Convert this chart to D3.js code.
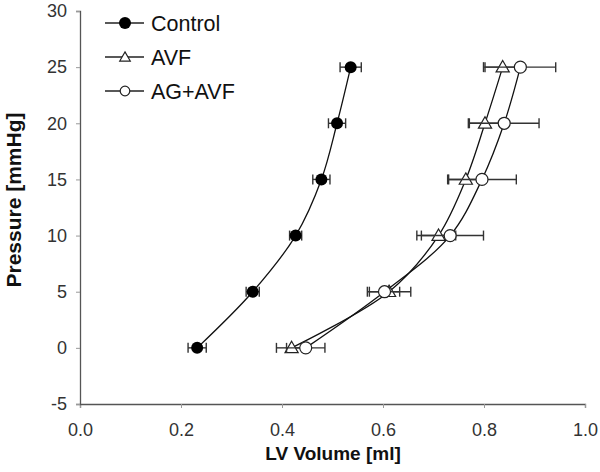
<!DOCTYPE html>
<html>
<head>
<meta charset="utf-8">
<script src="https://cdn.jsdelivr.net/npm/d3@7"></script>
<style>
  body { margin: 0; background: #fff; }
  svg { font-family: "Liberation Sans", Arial, sans-serif; }
</style>
</head>
<body>
<div class="chart"></div>
<script>
// pressure levels (y) shared by all groups
var pressure = [0, 5, 10, 15, 20, 25];

var controlVol = [0.232, 0.342, 0.427, 0.478, 0.509, 0.536];
var controlErr = [0.018, 0.013, 0.012, 0.017, 0.017, 0.021];

var avfVol = [0.419, 0.612, 0.710, 0.764, 0.802, 0.837];
var avfErr = [0.030, 0.043, 0.034, 0.034, 0.033, 0.038];

var agVol = [0.447, 0.603, 0.733, 0.796, 0.840, 0.872];
var agErr = [0.038, 0.030, 0.066, 0.068, 0.069, 0.070];

var xTicks = [0, 0.2, 0.4, 0.6, 0.8, 1.0];
var yTicks = [-5, 0, 5, 10, 15, 20, 25, 30];

var series = [
  { name: "Control", vol: controlVol, err: controlErr, shape: "dot" },
  { name: "AVF", vol: avfVol, err: avfErr, shape: "tri" },
  { name: "AG+AVF", vol: agVol, err: agErr, shape: "circle" }
];

var width = 600, height = 472;
var margin = { left: 80, right: 15, top: 11, bottom: 68 };

var svg = d3.select(".chart")
  .append("svg")
  .attr("width", width)
  .attr("height", height);

var x = d3.scaleLinear().domain([0, 1]).range([margin.left, width - margin.right]);
var y = d3.scaleLinear().domain([-5, 30]).range([height - margin.bottom, margin.top]);

// axes
var xAxis = svg.append("g")
  .attr("transform", "translate(0," + y(-5) + ")")
  .call(d3.axisBottom(x).tickValues(xTicks).tickFormat(d3.format(".1f")).tickSize(4).tickPadding(15));

var yAxis = svg.append("g")
  .attr("transform", "translate(" + x(0) + ",0)")
  .call(d3.axisLeft(y).tickValues(yTicks).tickFormat(function (d) { return String(d); })
    .tickSize(4).tickPadding(9));

[xAxis, yAxis].forEach(function (a) {
  a.select(".domain").attr("stroke", "#555").attr("stroke-width", 1.3);
  a.selectAll(".tick line").attr("stroke", "#999");
  a.selectAll("text").attr("font-size", 18).attr("fill", "#333")
    .attr("font-family", "Liberation Sans, Arial, sans-serif");
});

svg.append("text")
  .attr("x", 333).attr("y", 460)
  .attr("text-anchor", "middle")
  .attr("font-size", 19).attr("font-weight", "bold").attr("fill", "#111")
  .text("LV Volume [ml]");

svg.append("text")
  .attr("transform", "translate(21,200) rotate(-90)")
  .attr("text-anchor", "middle")
  .attr("font-size", 21).attr("font-weight", "bold").attr("fill", "#111")
  .text("Pressure [mmHg]");

var line = d3.line()
  .x(function (d) { return x(d[0]); })
  .y(function (d) { return y(d[1]); })
  .curve(d3.curveCatmullRom.alpha(0.5));

function drawMarker(g, shape, cx, cy, s) {
  if (shape === "dot") {
    g.append("circle").attr("cx", cx).attr("cy", cy).attr("r", 6 * s).attr("fill", "#000");
  } else if (shape === "circle") {
    g.append("circle").attr("cx", cx).attr("cy", cy).attr("r", 6 * s)
      .attr("fill", "#fff").attr("stroke", "#222").attr("stroke-width", 1.2);
  } else {
    var sym = d3.symbol().type(d3.symbolTriangle).size(75 * s * s);
    g.append("path").attr("d", sym()).attr("transform", "translate(" + cx + "," + (cy + 1) + ")")
      .attr("fill", "#fff").attr("stroke", "#222").attr("stroke-width", 1.2);
  }
}

series.forEach(function (s) {
  var pts = s.vol.map(function (v, i) { return [v, pressure[i]]; });
  var g = svg.append("g");

  // error bars
  pts.forEach(function (p, i) {
    var x0 = x(p[0] - s.err[i]), x1 = x(p[0] + s.err[i]), yy = y(p[1]);
    g.append("line").attr("x1", x0).attr("x2", x1).attr("y1", yy).attr("y2", yy)
      .attr("stroke", "#333").attr("stroke-width", 1.4);
    [x0, x1].forEach(function (xx) {
      g.append("line").attr("x1", xx).attr("x2", xx).attr("y1", yy - 5).attr("y2", yy + 5)
        .attr("stroke", "#333").attr("stroke-width", 1.4);
    });
  });

  g.append("path").datum(pts).attr("d", line)
    .attr("fill", "none").attr("stroke", "#111").attr("stroke-width", 1.3);

  pts.forEach(function (p) {
    drawMarker(g, s.shape, x(p[0]), y(p[1]), 1);
  });
});

// legend
var legend = svg.append("g");
series.forEach(function (s, i) {
  var ly = 23 + i * 34;
  legend.append("line").attr("x1", 105).attr("x2", 144).attr("y1", ly).attr("y2", ly)
    .attr("stroke", "#222").attr("stroke-width", 1.3);
  drawMarker(legend, s.shape, 125, ly, s.shape === "dot" ? 1 : 0.8);
  legend.append("text").attr("x", 151).attr("y", ly + 8)
    .attr("font-size", 21.5).attr("fill", "#111")
    .text(s.name);
});
</script>
</body>
</html>
